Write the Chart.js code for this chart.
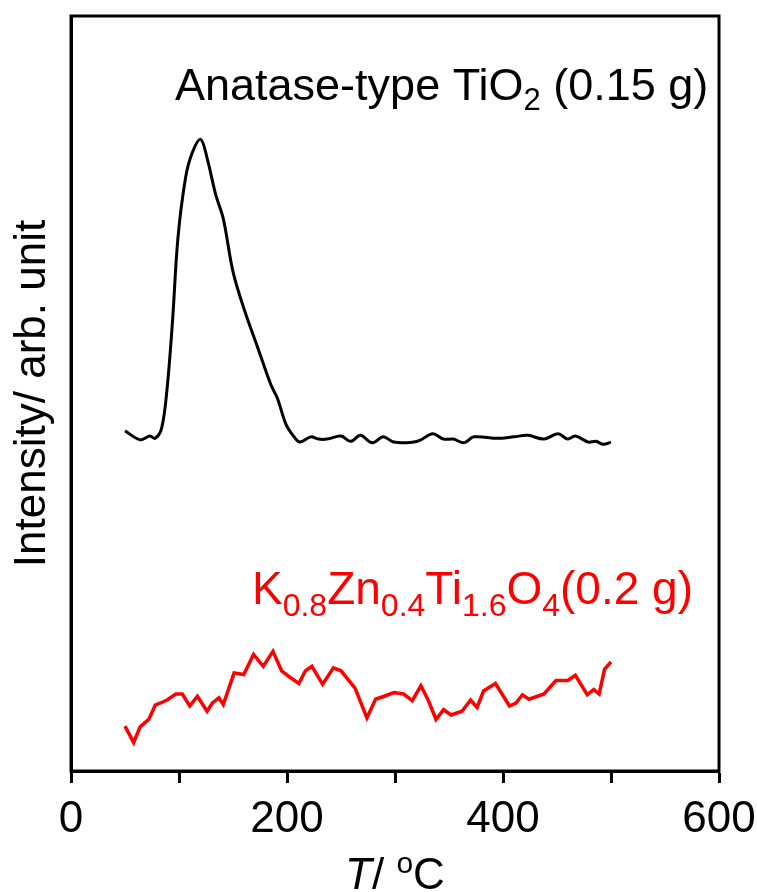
<!DOCTYPE html>
<html>
<head>
<meta charset="utf-8">
<script src="https://cdn.jsdelivr.net/npm/chart.js@4.4.1/dist/chart.umd.min.js"></script>
<style>
  html, body { margin: 0; padding: 0; background: #fff; }
  #wrap { width: 757px; height: 892px; }
</style>
</head>
<body>
<div id="wrap"><canvas id="tpd"></canvas></div>
<script>
// Anatase-type TiO2 (0.15 g), temperature / intensity (arb.)
const tio2T = [50, 64, 73, 78, 84, 89, 94, 99, 106, 112, 120, 126, 134, 141, 150, 160, 173, 185, 191, 199,
  206, 212, 222, 229, 237, 250, 259, 268, 279, 289, 299, 317, 324, 335, 345, 354, 364, 373, 395, 410,
  423, 438, 451, 460, 467, 479, 486, 493, 500]
const tio2I = [45.5, 44.3, 44.8, 44.5, 45.9, 51.2, 60.2, 71.3, 79.3, 82.6, 84.5, 82.0, 77.1, 73.9, 66.8, 61.9, 56.6, 51.7, 49.9, 46.4,
  44.8, 44.0, 44.7, 44.4, 44.4, 44.8, 44.1, 44.9, 43.9, 44.7, 44.0, 44.0, 44.3, 45.1, 44.4, 44.4, 43.9, 44.7, 44.5, 44.7,
  44.9, 44.4, 45.1, 44.4, 44.8, 44.0, 44.1, 43.7, 44.0]

// K0.8Zn0.4Ti1.6O4 (0.2 g)
const kztT = [50, 58, 64, 72, 78, 83, 89, 97, 103, 110, 117, 126, 131, 137, 141, 151, 160, 169, 178, 187,
  195, 203, 211, 217, 223, 233, 243, 250, 263, 274, 282, 290, 299, 308, 316, 324, 331, 338, 345, 352,
  362, 370, 376, 382, 393, 406, 412, 418, 424, 438, 449, 460, 467, 478, 484, 489, 494, 500]
const kztI = [6.0, 3.8, 5.9, 6.9, 8.8, 9.1, 9.5, 10.3, 10.3, 8.7, 10.0, 8.0, 9.1, 9.8, 8.9, 13.1, 12.9, 15.6, 14.0, 16.0,
  13.4, 12.5, 11.7, 13.4, 14.0, 11.6, 13.8, 13.4, 11.1, 7.1, 9.6, 10.0, 10.5, 10.3, 9.4, 11.4, 9.4, 6.9, 8.2, 7.5,
  8.0, 9.5, 8.5, 10.7, 11.7, 8.7, 9.1, 10.2, 9.6, 10.3, 12.1, 12.1, 12.8, 10.2, 10.9, 10.3, 13.6, 14.6]

const xTicks = [0, 100, 200, 300, 400, 500, 600]
const xLabels = ['0', '', '200', '', '400', '', '600']

const FONT = "Arial, 'Liberation Sans', sans-serif"

const toPoints = (xs, ys) => xs.map((x, i) => ({ x: x, y: ys[i] }))

// draws text made of pieces (subscripts, italics)
function drawPieces(ctx, pieces, x, y, color, align) {
  ctx.save()
  ctx.fillStyle = color
  ctx.textBaseline = 'alphabetic'
  ctx.textAlign = 'left'
  let total = 0
  pieces.forEach(p => {
    ctx.font = (p.italic ? 'italic ' : '') + p.size + 'px ' + FONT
    p.w = ctx.measureText(p.t).width
    total += p.w
  })
  let cx = align === 'center' ? x - total / 2 : x
  pieces.forEach(p => {
    ctx.font = (p.italic ? 'italic ' : '') + p.size + 'px ' + FONT
    ctx.fillText(p.t, cx, y + (p.dy || 0))
    cx += p.w
  })
  ctx.restore()
}

const decorations = {
  id: 'decorations',
  afterDraw(chart) {
    const ctx = chart.ctx
    const a = chart.chartArea
    // frame
    ctx.save()
    ctx.strokeStyle = '#000'
    ctx.lineWidth = 3
    ctx.strokeRect(a.left, a.top, a.right - a.left, a.bottom - a.top)
    ctx.restore()

    drawPieces(ctx, [
      { t: 'Anatase-type TiO', size: 45 },
      { t: '2', size: 31, dy: 10 },
      { t: ' (0.15 g)', size: 45 }
    ], 175, 100, '#000', 'left')

    drawPieces(ctx, [
      { t: 'K', size: 46 },
      { t: '0.8', size: 32, dy: 12 },
      { t: 'Zn', size: 46 },
      { t: '0.4', size: 32, dy: 12 },
      { t: 'Ti', size: 46 },
      { t: '1.6', size: 32, dy: 12 },
      { t: 'O', size: 46 },
      { t: '4', size: 32, dy: 12 },
      { t: '(0.2 g)', size: 46 }
    ], 252, 604, '#ff0000', 'left')

    // x axis title: T/ oC
    const xs = chart.scales.x
    drawPieces(ctx, [
      { t: 'T', size: 44, italic: true },
      { t: '/ ', size: 44 },
      { t: 'o', size: 30, dy: -16 },
      { t: 'C', size: 44 }
    ], (xs.left + xs.right) / 2, 889, '#000', 'center')
  }
}

new Chart(document.getElementById('tpd'), {
  type: 'line',
  data: {
    datasets: [{
      label: 'Anatase-type TiO2 (0.15 g)',
      data: toPoints(tio2T, tio2I),
      borderColor: '#000',
      borderWidth: 3,
      pointRadius: 0,
      tension: 0.35,
      fill: false
    }, {
      label: 'K0.8Zn0.4Ti1.6O4 (0.2 g)',
      data: toPoints(kztT, kztI),
      borderColor: '#ff0000',
      borderWidth: 3.5,
      pointRadius: 0,
      tension: 0,
      fill: false
    }]
  },
  options: {
    responsive: true,
    maintainAspectRatio: false,
    animation: false,
    layout: { padding: { top: 16, right: 38, left: 0, bottom: 0 } },
    plugins: {
      legend: { display: false },
      tooltip: { enabled: false }
    },
    scales: {
      x: {
        type: 'linear',
        min: 0,
        max: 600,
        afterBuildTicks: scale => {
          scale.ticks = xTicks.map(v => ({ value: v }))
        },
        afterFit: scale => {
          scale.height = 121
          scale.paddingRight = 0
          scale.paddingLeft = 0
        },
        border: { display: true, color: '#000', width: 3 },
        grid: {
          drawOnChartArea: false,
          drawTicks: true,
          tickLength: 12,
          tickColor: '#000',
          tickWidth: 3
        },
        ticks: {
          autoSkip: false,
          maxRotation: 0,
          padding: 10,
          color: '#000',
          font: { family: FONT, size: 44 },
          callback: (value, index) => xLabels[xTicks.indexOf(value)] ?? ''
        }
      },
      y: {
        type: 'linear',
        min: 0,
        max: 101,
        afterFit: scale => { scale.width = 71 },
        border: { display: true, color: '#000', width: 3 },
        grid: { display: false },
        ticks: { display: false },
        title: {
          display: true,
          text: 'Intensity/ arb. unit',
          color: '#000',
          font: { family: FONT, size: 44 },
          padding: { top: 6, bottom: 0 }
        }
      }
    }
  },
  plugins: [decorations]
})
</script>
</body>
</html>
